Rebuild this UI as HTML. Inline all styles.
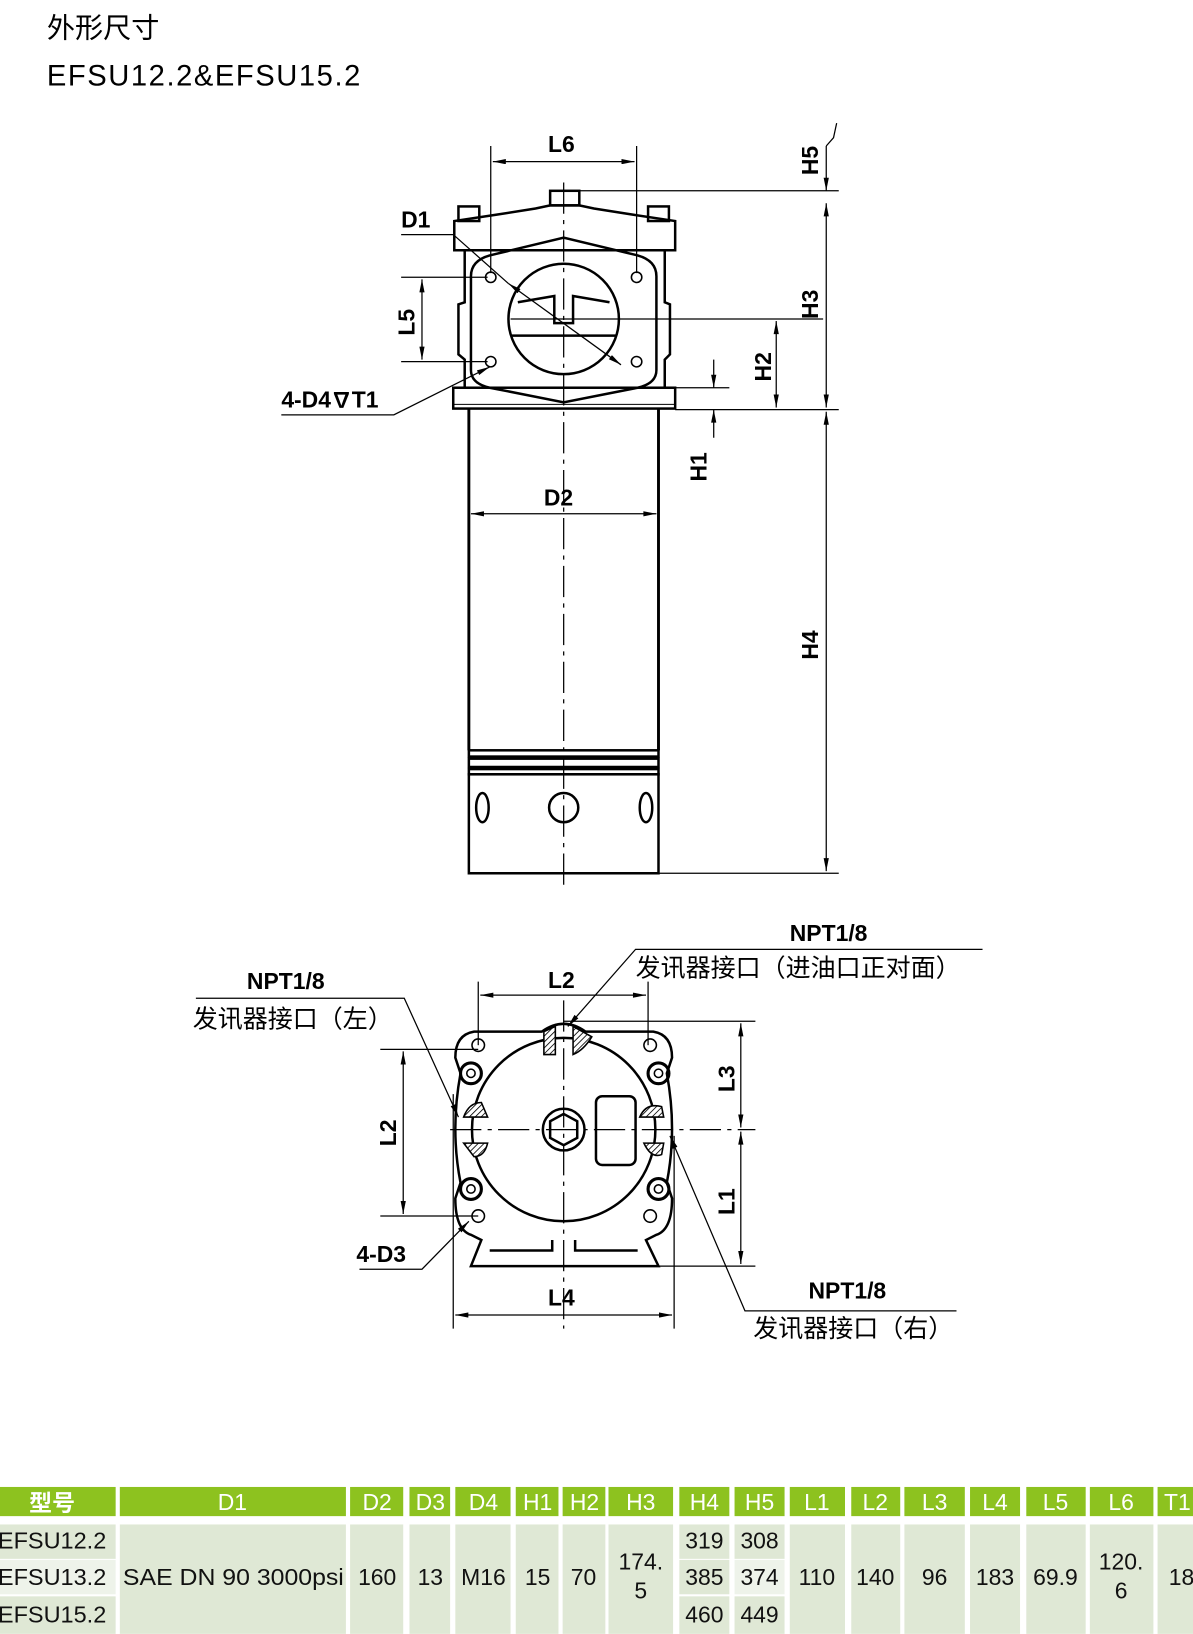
<!DOCTYPE html>
<html><head><meta charset="utf-8"><style>
html,body{margin:0;padding:0;background:#fff}
svg{display:block}
text{font-family:"Liberation Sans","Noto Sans CJK SC",sans-serif}
</style></head><body>
<svg width="1193" height="1634" viewBox="0 0 1145 1568" xmlns="http://www.w3.org/2000/svg">
<defs>
<marker id="a" viewBox="0 0 10 4" refX="10" refY="2" markerWidth="14" markerHeight="5" orient="auto-start-reverse" markerUnits="userSpaceOnUse"><path d="M0,0 L10,2 L0,4z" fill="#000"/></marker>
<pattern id="h" width="4" height="4" patternUnits="userSpaceOnUse" patternTransform="rotate(45)"><rect width="4" height="4" fill="#fff"/><line x1="0" y1="0" x2="0" y2="4" stroke="#000" stroke-width="1.6"/></pattern>
</defs>
<text x="45" y="36" font-size="27">外形尺寸</text>
<text x="45" y="82" font-size="28" letter-spacing="1.5">EFSU12.2&amp;EFSU15.2</text>

<g fill="none" stroke="#000" stroke-width="2.4">
<!-- top view -->
<rect x="528" y="183" width="28" height="14"/>
<rect x="440" y="198" width="20" height="14"/><rect x="622" y="198" width="20" height="14"/>
<path d="M436,212 L436,240 L648,240 L648,212 L608,206 L570,200 L556,197 L528,197 L514,200 L476,206Z"/>
<path d="M446,240 L446,290 L440,292 L440,340 L446,345 L446,372 M638,240 L638,290 L643,292 L643,340 L638,345 L638,372"/>
<path d="M470,245 L541,228 L612,245 Q630,250 630,265 L630,355 Q630,368 612,372 L541,386 L470,372 Q452,368 452,355 L452,265 Q452,250 470,245Z"/>
<circle cx="541" cy="306" r="53"/>
<path d="M497,290 L532,284 L532,310 L550,310 L550,284 L585,290"/>
<line x1="490" y1="322" x2="592" y2="322"/>
<rect x="435" y="372" width="213" height="20"/>
<line x1="435" y1="388" x2="648" y2="388" stroke-width="1"/>
<line x1="450" y1="392" x2="450" y2="720" stroke-width="2.8"/><line x1="632" y1="392" x2="632" y2="720" stroke-width="2.8"/>
<rect x="450" y="720" width="182" height="6"/><rect x="450" y="728" width="182" height="8"/><rect x="450" y="738" width="182" height="5"/>
<rect x="450" y="743" width="182" height="95"/>
<ellipse cx="463" cy="775" rx="6" ry="14"/><ellipse cx="620" cy="775" rx="6" ry="14"/><circle cx="541" cy="775" r="14"/>
<g stroke-width="1.5"><circle cx="471" cy="266" r="5"/><circle cx="611" cy="266" r="5"/><circle cx="471" cy="347" r="5"/><circle cx="611" cy="347" r="5"/></g>
</g>
<g stroke="#000" stroke-width="1.2" fill="none">
<line x1="541" y1="175" x2="541" y2="855" stroke-dasharray="30,6,4,6"/>
<line x1="490" y1="306" x2="790" y2="306"/>
<line x1="471" y1="140" x2="471" y2="262"/><line x1="611" y1="140" x2="611" y2="262"/>
<line x1="473" y1="155" x2="609" y2="155" marker-start="url(#a)" marker-end="url(#a)"/>
<line x1="556" y1="183" x2="805" y2="183"/><line x1="648" y1="393" x2="805" y2="393"/>
<line x1="793" y1="140" x2="793" y2="183" marker-end="url(#a)"/><path d="M793,140 L800,132 L803,118"/>
<line x1="793" y1="195" x2="793" y2="391" marker-start="url(#a)" marker-end="url(#a)"/>
<line x1="632" y1="838" x2="805" y2="838"/>
<line x1="793" y1="395" x2="793" y2="836" marker-start="url(#a)" marker-end="url(#a)"/>
<line x1="745" y1="308" x2="745" y2="391" marker-start="url(#a)" marker-end="url(#a)"/>
<line x1="648" y1="372" x2="700" y2="372"/>
<line x1="685" y1="345" x2="685" y2="372" marker-end="url(#a)"/><line x1="685" y1="420" x2="685" y2="393" marker-end="url(#a)"/>
<line x1="385" y1="266" x2="468" y2="266"/><line x1="385" y1="347" x2="468" y2="347"/>
<line x1="405" y1="268" x2="405" y2="345" marker-start="url(#a)" marker-end="url(#a)"/>
<line x1="452" y1="493" x2="630" y2="493" marker-start="url(#a)" marker-end="url(#a)"/>
<path d="M385,225 L435,225 L488,272"/><line x1="488" y1="272" x2="596" y2="350" marker-start="url(#a)" marker-end="url(#a)"/>
<path d="M270,398 L378,398 L470,352" marker-end="url(#a)"/>
</g>
<g font-weight="bold" font-size="22">
<text x="526" y="146">L6</text><text x="385" y="218">D1</text><text x="270" y="391">4-D4<tspan font-size="20">∇</tspan>T1</text>
<text x="522" y="485">D2</text>
<text transform="translate(785,168) rotate(-90)">H5</text>
<text transform="translate(785,306) rotate(-90)">H3</text>
<text transform="translate(740,366) rotate(-90)">H2</text>
<text transform="translate(678,462) rotate(-90)">H1</text>
<text transform="translate(785,633) rotate(-90)">H4</text>
<text transform="translate(398,322) rotate(-90)">L5</text>
</g>

<!-- bottom view -->
<g fill="none" stroke="#000" stroke-width="2.4">
<path d="M455,990 L520,990 Q541,975 562,990 L627,990 Q645,993 645,1015 L640,1030 Q650,1084 640,1135 L645,1150 Q645,1180 630,1185 L620,1190 L632,1215 L452,1215 L462,1190 L452,1185 Q437,1180 437,1150 L442,1135 Q432,1084 442,1030 L437,1015 Q437,993 455,990Z"/>
<circle cx="541" cy="1084" r="88"/>
<path d="M530,1190 L530,1200 L470,1200 M552,1190 L552,1200 L612,1200"/>
<circle cx="541" cy="1084" r="20"/><path d="M541,1069 L554,1076 L554,1092 L541,1099 L528,1092 L528,1076Z"/>
<rect x="572" y="1052" width="38" height="66" rx="6"/>
<g stroke-width="1.5"><circle cx="459" cy="1003" r="6"/><circle cx="624" cy="1003" r="6"/><circle cx="459" cy="1167" r="6"/><circle cx="624" cy="1167" r="6"/></g>
<g stroke-width="3"><circle cx="452" cy="1030" r="10"/><circle cx="632" cy="1030" r="10"/><circle cx="452" cy="1141" r="10"/><circle cx="632" cy="1141" r="10"/></g>
<g stroke-width="1.5"><circle cx="452" cy="1030" r="4"/><circle cx="632" cy="1030" r="4"/><circle cx="452" cy="1141" r="4"/><circle cx="632" cy="1141" r="4"/></g>
</g>
<g fill="url(#h)" stroke="#000" stroke-width="1.5">
<path d="M522,1012 L522,990 L533,985 L533,1012Z"/><path d="M550,1012 L550,985 L568,995 Q560,1008 550,1012Z"/>
<path d="M445,1072 Q450,1058 462,1058 L468,1072Z"/><path d="M445,1097 L468,1097 Q465,1110 455,1110Z"/>
<path d="M614,1072 Q620,1058 635,1062 L637,1072Z"/><path d="M618,1097 L637,1097 L635,1108 Q625,1112 618,1097Z"/>
</g>
<g stroke="#000" stroke-width="1.2" fill="none">
<line x1="541" y1="960" x2="541" y2="1275" stroke-dasharray="30,6,4,6"/>
<line x1="432" y1="1084" x2="725" y2="1084" stroke-dasharray="30,6,4,6"/>
<line x1="459" y1="942" x2="459" y2="1003"/><line x1="622" y1="942" x2="622" y2="1003"/>
<line x1="461" y1="955" x2="620" y2="955" marker-start="url(#a)" marker-end="url(#a)"/>
<line x1="435" y1="1050" x2="435" y2="1275"/><line x1="647" y1="1090" x2="647" y2="1275"/>
<line x1="437" y1="1262" x2="645" y2="1262" marker-start="url(#a)" marker-end="url(#a)"/>
<line x1="541" y1="980" x2="725" y2="980"/><line x1="632" y1="1215" x2="725" y2="1215"/>
<line x1="711" y1="982" x2="711" y2="1082" marker-start="url(#a)" marker-end="url(#a)"/>
<line x1="711" y1="1086" x2="711" y2="1213" marker-start="url(#a)" marker-end="url(#a)"/>
<line x1="365" y1="1007" x2="459" y2="1007"/><line x1="365" y1="1167" x2="459" y2="1167"/>
<line x1="387" y1="1009" x2="387" y2="1165" marker-start="url(#a)" marker-end="url(#a)"/>
<path d="M943,911 L610,911 L545,985" marker-end="url(#a)"/>
<path d="M188,958 L388,958 L440,1072" marker-end="url(#a)"/>
<path d="M918,1258 L715,1258 L643,1090" marker-end="url(#a)"/>
<path d="M345,1218 L405,1218 L450,1172" marker-end="url(#a)"/>
</g>
<g font-weight="bold" font-size="22">
<text x="758" y="903">NPT1/8</text><text x="237" y="949">NPT1/8</text><text x="776" y="1246">NPT1/8</text>
<text x="526" y="948">L2</text><text x="526" y="1253">L4</text><text x="342" y="1211">4-D3</text>
<text transform="translate(705,1048) rotate(-90)">L3</text>
<text transform="translate(705,1166) rotate(-90)">L1</text>
<text transform="translate(380,1100) rotate(-90)">L2</text>
</g>
<g font-size="24">
<text x="610" y="937">发讯器接口（进油口正对面）</text>
<text x="185" y="986">发讯器接口（左）</text>
<text x="723" y="1283">发讯器接口（右）</text>
</g>

<!-- table -->
<g fill="#8dc21f">
<rect x="0" y="1427" width="111" height="28"/><rect x="115" y="1427" width="217" height="28"/>
<rect x="336" y="1427" width="51" height="28"/><rect x="393" y="1427" width="39" height="28"/><rect x="437" y="1427" width="53" height="28"/>
<rect x="495" y="1427" width="41" height="28"/><rect x="540" y="1427" width="41" height="28"/><rect x="584" y="1427" width="62" height="28"/>
<rect x="652" y="1427" width="48" height="28"/><rect x="705" y="1427" width="48" height="28"/><rect x="758" y="1427" width="53" height="28"/>
<rect x="817" y="1427" width="47" height="28"/><rect x="868" y="1427" width="58" height="28"/><rect x="931" y="1427" width="48" height="28"/>
<rect x="985" y="1427" width="57" height="28"/><rect x="1046" y="1427" width="61" height="28"/><rect x="1111" y="1427" width="34" height="28"/>
</g>
<g fill="#dfe8d5">
<rect x="0" y="1463" width="111" height="33"/><rect x="0" y="1497" width="111" height="33" fill="#eef3ea"/><rect x="0" y="1532" width="111" height="36"/>
<rect x="115" y="1463" width="217" height="105"/><rect x="336" y="1463" width="51" height="105"/><rect x="393" y="1463" width="39" height="105"/>
<rect x="437" y="1463" width="53" height="105"/><rect x="495" y="1463" width="41" height="105"/><rect x="540" y="1463" width="41" height="105"/>
<rect x="584" y="1463" width="62" height="105"/>
<rect x="652" y="1463" width="48" height="33"/><rect x="652" y="1497" width="48" height="33"/><rect x="652" y="1532" width="48" height="36"/>
<rect x="705" y="1463" width="48" height="33"/><rect x="705" y="1497" width="48" height="33" fill="#eef3ea"/><rect x="705" y="1532" width="48" height="36"/>
<rect x="758" y="1463" width="53" height="105"/><rect x="817" y="1463" width="47" height="105"/><rect x="868" y="1463" width="58" height="105"/>
<rect x="931" y="1463" width="48" height="105"/><rect x="985" y="1463" width="57" height="105"/><rect x="1046" y="1463" width="61" height="105"/>
<rect x="1111" y="1463" width="34" height="105"/>
</g>
<g font-size="22" fill="#fff" text-anchor="middle">
<text x="50" y="1450" font-weight="bold">型号</text><text x="223" y="1449">D1</text><text x="362" y="1449">D2</text><text x="413" y="1449">D3</text>
<text x="464" y="1449">D4</text><text x="516" y="1449">H1</text><text x="561" y="1449">H2</text><text x="615" y="1449">H3</text>
<text x="676" y="1449">H4</text><text x="729" y="1449">H5</text><text x="784" y="1449">L1</text><text x="840" y="1449">L2</text>
<text x="897" y="1449">L3</text><text x="955" y="1449">L4</text><text x="1013" y="1449">L5</text><text x="1076" y="1449">L6</text><text x="1130" y="1449">T1</text>
</g>
<g font-size="22" fill="#111" text-anchor="middle">
<text x="50" y="1486" textLength="104" lengthAdjust="spacingAndGlyphs">EFSU12.2</text><text x="50" y="1521" textLength="104" lengthAdjust="spacingAndGlyphs">EFSU13.2</text><text x="50" y="1557" textLength="104" lengthAdjust="spacingAndGlyphs">EFSU15.2</text>
<text x="224" y="1521" textLength="212" lengthAdjust="spacingAndGlyphs">SAE DN 90 3000psi</text>
<text x="362" y="1521">160</text><text x="413" y="1521">13</text><text x="464" y="1521">M16</text><text x="516" y="1521">15</text><text x="560" y="1521">70</text>
<text x="615" y="1506">174.</text><text x="615" y="1534">5</text>
<text x="676" y="1486">319</text><text x="676" y="1521">385</text><text x="676" y="1557">460</text>
<text x="729" y="1486">308</text><text x="729" y="1521">374</text><text x="729" y="1557">449</text>
<text x="784" y="1521">110</text><text x="840" y="1521">140</text><text x="897" y="1521">96</text><text x="955" y="1521">183</text><text x="1013" y="1521">69.9</text>
<text x="1076" y="1506">120.</text><text x="1076" y="1534">6</text><text x="1134" y="1521">18</text>
</g>
</svg>
</body></html>
